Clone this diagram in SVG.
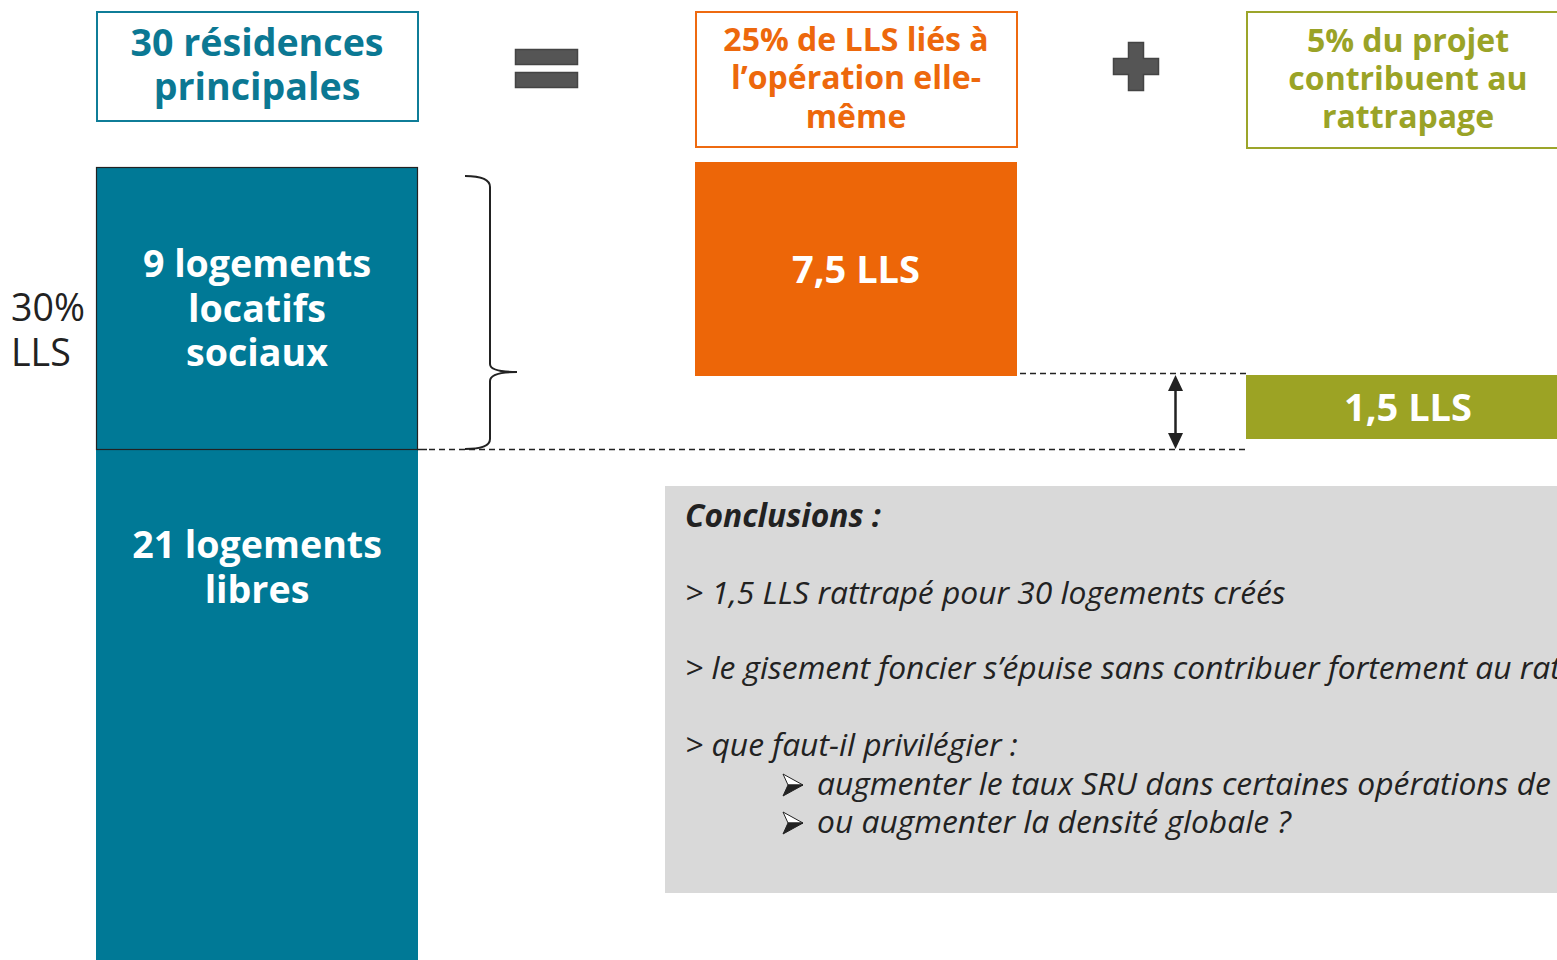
<svg xmlns="http://www.w3.org/2000/svg" width="1557" height="960" viewBox="0 0 1557 960">
<style>
.b{font-family:"Open Sans","Liberation Sans",sans-serif;font-weight:bold;text-anchor:middle}
.w{fill:#fff}
.t{fill:#0b7893}
.o{fill:#ed680c}
.g{fill:#9aa327}
.c{font-family:"Open Sans","Liberation Sans",sans-serif;font-style:italic;fill:#222;font-size:31.8px}
.dash{stroke:#222;stroke-width:1.5;stroke-dasharray:6 4;fill:none}
.sym{fill:#555;stroke:#444;stroke-width:1.5}
</style>
<rect width="1557" height="960" fill="#fff"/>
<g id="box-residences">
<rect x="97" y="12" width="321" height="109" fill="#fff" stroke="#0f7d98" stroke-width="2"/>
<text class="b t" font-size="37.6" x="257" y="56">30 résidences</text>
<text class="b t" font-size="37.6" x="257" y="100">principales</text>
</g>
<g id="sign-equals">
<rect class="sym" x="515.5" y="49.5" width="62" height="15"/>
<rect class="sym" x="515.5" y="72.5" width="62" height="15"/>
</g>
<g id="box-25">
<rect x="696" y="12" width="321" height="135" fill="#fff" stroke="#ee6a10" stroke-width="2"/>
<text class="b o" font-size="32" x="856" y="51">25% de LLS liés à</text>
<text class="b o" font-size="32" x="856" y="89">l’opération elle-</text>
<text class="b o" font-size="32" x="856" y="128">même</text>
</g>
<g id="sign-plus">
<path class="sym" d="M1128.5,42.5 h15 v16 h15 v16 h-15 v16 h-15 v-16 h-15 v-16 h15 z"/>
</g>
<g id="box-5">
<rect x="1247" y="12" width="320" height="136" fill="#fff" stroke="#9ca52a" stroke-width="2"/>
<text class="b g" font-size="32" x="1408" y="52">5% du projet</text>
<text class="b g" font-size="32" x="1408" y="90">contribuent au</text>
<text class="b g" font-size="32" x="1408" y="128">rattrapage</text>
</g>
<g id="label-30">
<text font-family="'Open Sans','Liberation Sans',sans-serif" font-size="37.5" fill="#222" x="11" y="321">30%</text>
<text font-family="'Open Sans','Liberation Sans',sans-serif" font-size="37.5" fill="#222" x="11" y="366">LLS</text>
</g>
<g id="block-libres">
<rect x="96" y="167" width="322" height="793" fill="#007996"/>
<text class="b w" font-size="37.6" x="257" y="558">21 logements</text>
<text class="b w" font-size="37.6" x="257" y="603">libres</text>
</g>
<g id="block-sociaux">
<rect x="96.5" y="167.5" width="321" height="282" fill="#007996" stroke="#222" stroke-width="1.2"/>
<text class="b w" font-size="37.6" x="257" y="277">9 logements</text>
<text class="b w" font-size="37.6" x="257" y="322">locatifs</text>
<text class="b w" font-size="37.6" x="257" y="366">sociaux</text>
</g>
<g id="block-75">
<rect x="695" y="162" width="322" height="214" fill="#ed6608"/>
<text class="b w" font-size="38" x="856" y="283">7,5 LLS</text>
</g>
<g id="block-15">
<rect x="1246" y="375" width="320" height="64" fill="#9ca324"/>
<text class="b w" font-size="38" x="1408" y="421">1,5 LLS</text>
</g>
<g id="connectors">
<path d="M465,176 Q490,176 490,187 L490,364 Q490,372 517,372 Q490,372 490,381 L490,439 Q490,449 465,449" fill="none" stroke="#222" stroke-width="2"/>
<line x1="417" y1="449.5" x2="427" y2="449.5" stroke="#222" stroke-width="1.5"/>
<line class="dash" x1="429" y1="449.5" x2="1248" y2="449.5"/>
<line class="dash" x1="1020" y1="373.5" x2="1246" y2="373.5"/>
<line x1="1175.5" y1="388" x2="1175.5" y2="436" stroke="#222" stroke-width="2.5"/>
<polygon points="1175.5,375 1168,391 1183,391" fill="#222"/>
<polygon points="1175.5,449 1168,433 1183,433" fill="#222"/>
</g>
<g id="conclusions">
<rect x="665" y="486" width="900" height="407" fill="#d9d9d9"/>
<text class="c" font-weight="bold" x="685" y="527">Conclusions :</text>
<text class="c" x="685" y="604">&gt; 1,5 LLS rattrapé pour 30 logements créés</text>
<text class="c" x="685" y="679">&gt; le gisement foncier s’épuise sans contribuer fortement au rattrapage</text>
<text class="c" x="685" y="756">&gt; que faut-il privilégier :</text>
<path d="M783,774 L803,785 L788,785 Z" fill="#fff" stroke="#222" stroke-width="1"/>
<path d="M783,796 L803,785 L788,785 Z" fill="#222" stroke="#222" stroke-width="1"/>
<text class="c" x="817" y="795">augmenter le taux SRU dans certaines opérations de</text>
<path d="M783,812 L803,823 L788,823 Z" fill="#fff" stroke="#222" stroke-width="1"/>
<path d="M783,834 L803,823 L788,823 Z" fill="#222" stroke="#222" stroke-width="1"/>
<text class="c" x="817" y="833">ou augmenter la densité globale ?</text>
</g>
</svg>
